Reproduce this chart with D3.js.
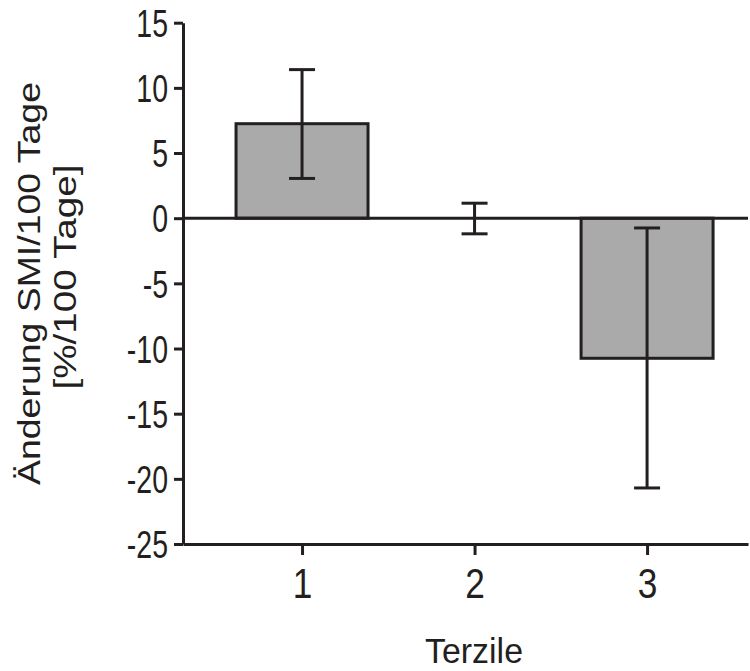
<!DOCTYPE html>
<html>
<head>
<meta charset="utf-8">
<script src="https://cdn.jsdelivr.net/npm/d3@7"></script>
<style>
  body { margin: 0; background: #fff; }
  text { font-family: "Liberation Sans", Arial, sans-serif; fill: #231f20; }
</style>
</head>
<body>
<div id="chart"></div>
<script>
// data
var terzile = [1, 2, 3];
var means   = [7.25, 0, -10.75];
var errLow  = [3.05, -1.2, -20.7];
var errHigh = [11.4, 1.15, -0.75];
var yTicks  = [15, 10, 5, 0, -5, -10, -15, -20, -25];

var width = 750, height = 671;
var ink = "#231f20";

var svg = d3.select("#chart").append("svg")
    .attr("width", width)
    .attr("height", height);

// scales
var x = d3.scaleLinear().domain([0.31, 3.585]).range([183, 748]);
var y = d3.scaleLinear().domain([-25, 15]).range([544, 22.7]);
var barW = 132, capW = 26;

// bars
svg.selectAll("rect.bar")
  .data(terzile)
  .enter().append("rect")
    .attr("class", "bar")
    .attr("x", function(d) { return x(d) - barW / 2; })
    .attr("y", function(d, i) { return y(Math.max(0, means[i])); })
    .attr("width", barW)
    .attr("height", function(d, i) { return Math.abs(y(means[i]) - y(0)); })
    .style("fill", function(d, i) { return means[i] === 0 ? "none" : "#aaaaaa"; })
    .style("stroke", function(d, i) { return means[i] === 0 ? "none" : ink; })
    .style("stroke-width", 3);

// zero line
svg.append("line")
    .attr("x1", x.range()[0]).attr("x2", x.range()[1])
    .attr("y1", y(0)).attr("y2", y(0))
    .style("stroke", ink).style("stroke-width", 3);

// error bars
var eb = svg.selectAll("g.err").data(terzile).enter().append("g").attr("class", "err");
eb.append("line")
    .attr("x1", function(d) { return x(d); }).attr("x2", function(d) { return x(d); })
    .attr("y1", function(d, i) { return y(errLow[i]); })
    .attr("y2", function(d, i) { return y(errHigh[i]); });
eb.append("line")
    .attr("x1", function(d) { return x(d) - capW / 2; }).attr("x2", function(d) { return x(d) + capW / 2; })
    .attr("y1", function(d, i) { return y(errLow[i]); })
    .attr("y2", function(d, i) { return y(errLow[i]); });
eb.append("line")
    .attr("x1", function(d) { return x(d) - capW / 2; }).attr("x2", function(d) { return x(d) + capW / 2; })
    .attr("y1", function(d, i) { return y(errHigh[i]); })
    .attr("y2", function(d, i) { return y(errHigh[i]); });
eb.selectAll("line").style("stroke", ink).style("stroke-width", 3);

// axes
var yAxis = svg.append("g")
    .attr("transform", "translate(" + x.range()[0] + ",0)")
    .call(d3.axisLeft(y).tickValues(yTicks).tickSize(9).tickSizeOuter(0)
      .tickFormat(function(d) { return String(d); }));
var xAxis = svg.append("g")
    .attr("transform", "translate(0," + y(-25) + ")")
    .call(d3.axisBottom(x).tickValues(terzile).tickFormat(d3.format("d")).tickSize(11).tickSizeOuter(0));

[yAxis, xAxis].forEach(function(a) {
  a.select(".domain").style("stroke", ink).style("stroke-width", 3);
  a.selectAll(".tick line").style("stroke", ink).style("stroke-width", 3);
  a.selectAll(".tick text").style("fill", ink)
    .style("font-family", "'Liberation Sans', Arial, sans-serif");
});
// narrow look of the original lettering
var sy = 0.75, sx = 0.82;
yAxis.selectAll(".tick text")
    .style("font-size", "38px")
    .attr("transform", "scale(" + sy + ",1)")
    .attr("x", -15 / sy)
    .attr("dy", "0.36em");
xAxis.selectAll(".tick text")
    .style("font-size", "43px")
    .attr("transform", "scale(" + sx + ",1)")
    .attr("y", 54)
    .attr("dy", "0");

// axis titles
svg.append("text")
    .attr("x", 474).attr("y", 663)
    .attr("text-anchor", "middle")
    .attr("textLength", 98)
    .attr("lengthAdjust", "spacingAndGlyphs")
    .style("font-size", "35px")
    .text("Terzile");

var yl = svg.append("g").attr("transform", "rotate(-90)");
yl.append("text")
    .attr("x", -283.5).attr("y", 40)
    .attr("text-anchor", "middle")
    .attr("textLength", 403)
    .attr("lengthAdjust", "spacingAndGlyphs")
    .style("font-size", "31px")
    .text("Änderung SMI/100 Tage");
yl.append("text")
    .attr("x", -277).attr("y", 76)
    .attr("text-anchor", "middle")
    .attr("textLength", 225)
    .attr("lengthAdjust", "spacingAndGlyphs")
    .style("font-size", "31px")
    .text("[%/100 Tage]");
</script>
</body>
</html>
